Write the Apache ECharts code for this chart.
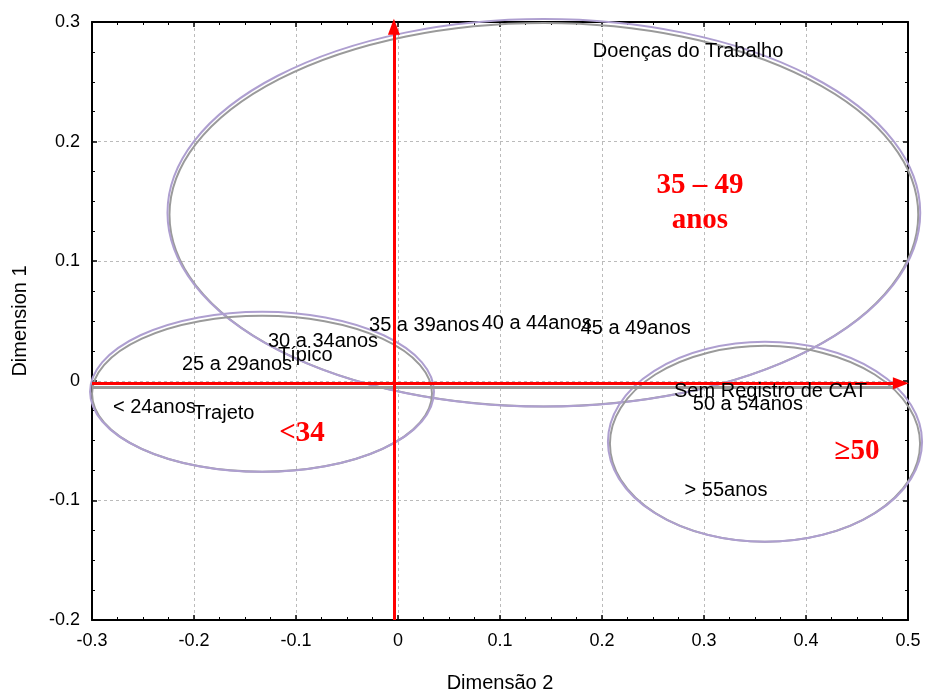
<!DOCTYPE html>
<html><head><meta charset="utf-8">
<script src="https://cdn.jsdelivr.net/npm/echarts@6/dist/echarts.min.js"></script>
<style>html,body{margin:0;padding:0;background:#fff}#c{width:925px;height:693px}</style>
</head><body><div id="c"></div>
<script>
// Point labels (Dimensão 2, Dimension 1)
const pointNames = ["Doenças do Trabalho","35 a 39anos","40 a 44anos","45 a 49anos","30 a 34anos","Típico","25 a 29anos","< 24anos","Trajeto","Sem Registro de CAT","50 a 54anos","> 55anos"];
const pointX = [0.191,-0.0284,0.082,0.179,-0.1275,-0.1176,-0.2118,-0.2794,-0.201,0.2706,0.289,0.281];
const pointY = [0.275,0.046,0.048,0.044,0.033,0.021,0.014,-0.0226,-0.027,-0.0092,-0.020,-0.092];
// Group ellipses: center x, center y, radius x, radius y (data units)
const ellCx = [0.143,-0.1333,0.3598];
const ellCy = [0.1405,-0.0092,-0.051];
const ellRx = [0.369,0.1686,0.154];
const ellRy = [0.162,0.0669,0.0836];
// Group annotations
const groupText = ["35 – 49\nanos","<34","≥50"];
const groupX = [0.296,-0.0941,0.45];
const groupY = [0.149,-0.0443,-0.0594];
const xTicks = [-0.3,-0.2,-0.1,0,0.1,0.2,0.3,0.4,0.5];
const yTicks = [-0.2,-0.1,0,0.1,0.2,0.3];

const chart = echarts.init(document.getElementById('c'));
const tickFont = {fontFamily:'"Liberation Sans Narrow","Liberation Sans",Arial,sans-serif',fontSize:18,color:'#000'};
function fmt(v){return v===0?'0':String(Math.round(v*10)/10);}
const axisCommon = {
  axisLine:{show:true,onZero:false,lineStyle:{color:'#000',width:2}},
  axisTick:{show:true,inside:true,length:5,lineStyle:{color:'#000',width:1.5}},
  minorTick:{show:true,splitNumber:4,length:3,lineStyle:{color:'#000',width:1}},
};
const ellData = ellCx.map((c,i)=>[c,ellCy[i],ellRx[i],ellRy[i]]);
function ellPath(cx,cy,rx,ry){
  return `M ${cx-rx} ${cy} A ${rx} ${ry} 0 1 0 ${cx+rx} ${cy} A ${rx} ${ry} 0 1 0 ${cx-rx} ${cy} Z`;
}
chart.setOption({
  animation:false,
  backgroundColor:'#fff',
  grid:{left:92,right:17,top:22,bottom:73,containLabel:false,outerBoundsMode:'none'},
  xAxis:[
    Object.assign({type:'value',min:-0.3,max:0.5,interval:0.1,position:'bottom',
      name:'Dimensão 2',nameLocation:'middle',nameGap:53,
      nameTextStyle:{fontFamily:'"Liberation Sans",Arial,sans-serif',fontSize:20,color:'#000'},
      axisLabel:Object.assign({margin:12,formatter:fmt},tickFont),
      splitLine:{show:true,lineStyle:{color:'#bbb',type:[3,3],width:1}}},axisCommon),
    Object.assign({type:'value',min:-0.3,max:0.5,interval:0.1,position:'top',
      axisLabel:{show:false},splitLine:{show:false}},axisCommon)
  ],
  yAxis:[
    Object.assign({type:'value',min:-0.2,max:0.3,interval:0.1,position:'left',
      name:'Dimension 1',nameLocation:'middle',nameGap:62,nameRotate:90,
      nameTextStyle:{fontFamily:'"Liberation Sans Narrow","Liberation Sans",Arial,sans-serif',fontSize:20,color:'#000'},
      axisLabel:Object.assign({margin:12,formatter:fmt},tickFont),
      splitLine:{show:true,lineStyle:{color:'#bbb',type:[3,3],width:1}}},axisCommon),
    Object.assign({type:'value',min:-0.2,max:0.3,interval:0.1,position:'right',
      axisLabel:{show:false},splitLine:{show:false}},axisCommon)
  ],
  series:[
    {
      type:'custom',coordinateSystem:'cartesian2d',clip:false,z:3,
      data:ellData,
      renderItem:function(params,api){
        const c = api.coord([api.value(0),api.value(1)]);
        const s = api.size([api.value(2),api.value(3)]);
        const rx=s[0], ry=s[1];
        return {type:'group',children:[
          {type:'path',shape:{pathData:ellPath(c[0],c[1]+2,rx-2,ry-2)},style:{fill:null,stroke:'#9a9a9a',lineWidth:2}},
          {type:'path',shape:{pathData:ellPath(c[0],c[1],rx,ry)},style:{fill:null,stroke:'#ae9fd0',lineWidth:2}}
        ]};
      }
    },
    {
      type:'line',data:[[-0.3,-0.0055],[0.488,-0.0055]],symbol:'none',z:4,
      lineStyle:{color:'#999',width:3},silent:true
    },
    {
      type:'line',data:[],z:5,silent:true,
      markLine:{silent:true,symbol:['none','triangle'],symbolSize:[12,16],
        label:{show:false},
        lineStyle:{color:'#ff0000',width:3,type:'solid'},
        data:[
          [{coord:[-0.004,-0.2]},{coord:[-0.004,0.296]}],
          [{coord:[-0.3,-0.002]},{coord:[0.493,-0.002]}]
        ]}
    },
    {
      type:'scatter',symbolSize:0,z:6,silent:true,itemStyle:{opacity:1},
      data:pointX.map((x,i)=>({value:[x,pointY[i]],name:pointNames[i]})),
      label:{show:true,position:'right',distance:0,formatter:p=>p.name,
        fontFamily:'"Liberation Sans",Arial,sans-serif',fontSize:20,color:'#000'}
    },
    {
      type:'scatter',symbolSize:0,z:7,silent:true,itemStyle:{opacity:1},
      data:groupX.map((x,i)=>({value:[x,groupY[i]],name:groupText[i]})),
      label:{show:true,position:'inside',formatter:p=>p.name,
        fontFamily:'"Liberation Serif","Times New Roman",serif',fontWeight:'bold',fontSize:29,lineHeight:35,color:'#ff0000',align:'center'}
    }
  ]
});
</script></body></html>
